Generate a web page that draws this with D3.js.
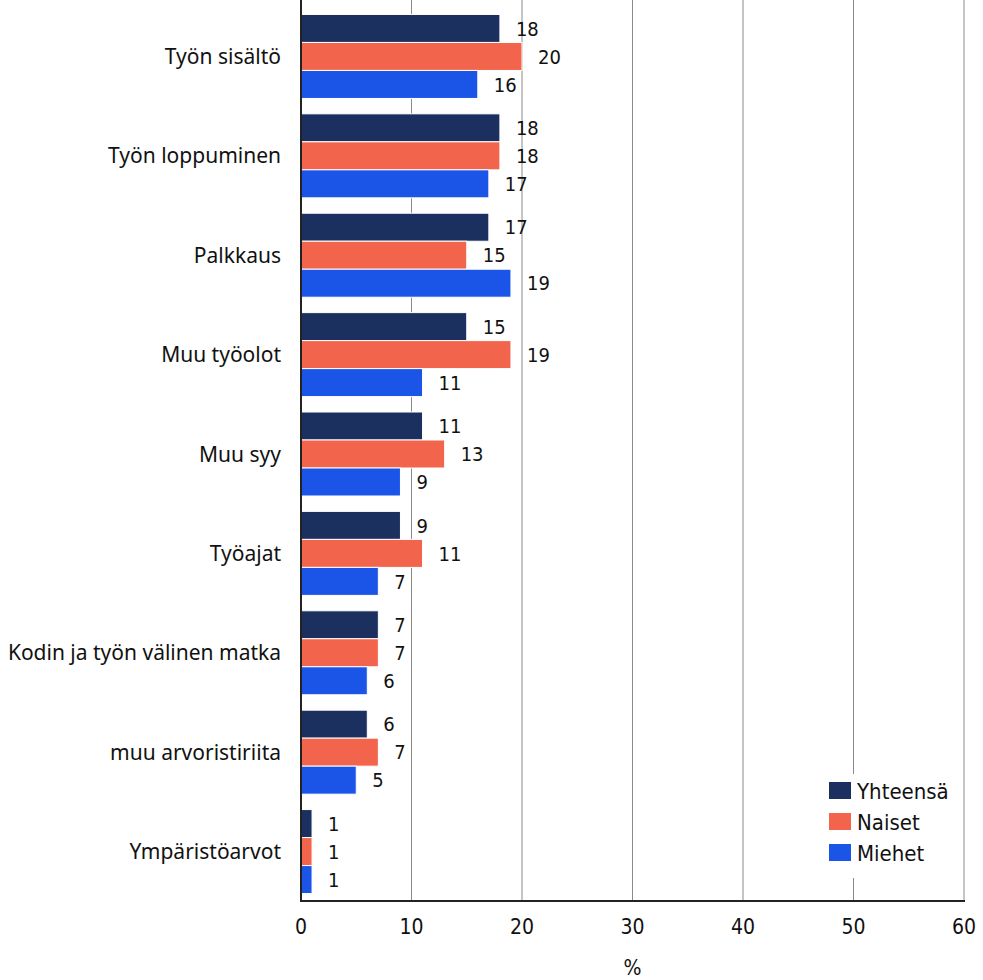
<!DOCTYPE html>
<html lang="fi">
<head>
<meta charset="utf-8">
<style>
  body { margin: 0; background: #fff; }
  svg text { font-family: "DejaVu Sans Condensed", "DejaVu Sans", sans-serif; font-stretch: condensed; fill: #111; }
  .cat text { font-family: "Noto Sans", "Roboto", sans-serif; font-stretch: normal; }
</style>
<script src="https://d3js.org/d3.v7.min.js"></script>
</head>
<body>
<div id="chart"></div>
<script>
var categories = ["Työn sisältö", "Työn loppuminen", "Palkkaus", "Muu työolot", "Muu syy",
  "Työajat", "Kodin ja työn välinen matka", "muu arvoristiriita", "Ympäristöarvot"]
var series = ["Yhteensä", "Naiset", "Miehet"]
var yhteensa = [18, 18, 17, 15, 11, 9, 7, 6, 1]
var naiset = [20, 18, 15, 19, 13, 11, 7, 7, 1]
var miehet = [16, 17, 19, 11, 9, 7, 6, 5, 1]
var xTicks = [0, 10, 20, 30, 40, 50, 60]
var colors = ["#1c3060", "#f2644b", "#1b55e8"]

var width = 983, height = 980
var plotLeft = 301, plotRight = 964, plotTop = 7, plotBottom = 901

var svg = d3.select("#chart").append("svg")
  .attr("width", width).attr("height", height)

var x = d3.scaleLinear().domain([0, 60]).range([plotLeft, plotRight])
var y = d3.scaleBand().domain(categories).range([plotTop, plotBottom])
  .paddingInner(0.155).paddingOuter(0.075)
var ySub = d3.scaleBand().domain(series).range([0, y.bandwidth()])

// gridlines
svg.append("g").selectAll("line")
  .data(xTicks.slice(1))
  .enter().append("line")
    .attr("x1", function(d){ return x(d) }).attr("x2", function(d){ return x(d) })
    .attr("y1", 0).attr("y2", plotBottom)
    .attr("stroke", "#8a8a8a").attr("stroke-width", 1)

var rows = categories.map(function(c, i){
  return { cat: c, values: [yhteensa[i], naiset[i], miehet[i]] }
})

var groups = svg.append("g").selectAll("g")
  .data(rows).enter().append("g")
    .attr("transform", function(d){ return "translate(0," + y(d.cat) + ")" })

groups.selectAll("rect")
  .data(function(d){ return d.values.map(function(v, j){ return { s: series[j], v: v, j: j } }) })
  .enter().append("rect")
    .attr("x", x(0))
    .attr("y", function(d){ return ySub(d.s) })
    .attr("width", function(d){ return x(d.v) - x(0) })
    .attr("height", ySub.bandwidth())
    .attr("fill", function(d){ return colors[d.j] })
    .attr("stroke", "#fff").attr("stroke-width", 1)

groups.selectAll("text.val")
  .data(function(d){ return d.values.map(function(v, j){ return { s: series[j], v: v } }) })
  .enter().append("text")
    .attr("class", "val")
    .attr("x", function(d){ return x(d.v) + 16 })
    .attr("y", function(d){ return ySub(d.s) + ySub.bandwidth() / 2 })
    .attr("dy", "0.36em")
    .style("font-size", "20px")
    .text(function(d){ return d.v })

// category labels
svg.append("g").attr("class", "cat").selectAll("text")
  .data(categories).enter().append("text")
    .attr("x", 281)
    .attr("y", function(d){ return y(d) + y.bandwidth() / 2 })
    .attr("dy", "0.36em")
    .attr("text-anchor", "end")
    .style("font-size", "21px")
    .text(function(d){ return d })

// axes lines
svg.append("line").attr("x1", plotLeft).attr("x2", plotLeft).attr("y1", 0).attr("y2", plotBottom + 1)
  .attr("stroke", "#222").attr("stroke-width", 2)
svg.append("line").attr("x1", plotLeft).attr("x2", plotRight + 1).attr("y1", plotBottom).attr("y2", plotBottom)
  .attr("stroke", "#222").attr("stroke-width", 2)

svg.append("g").selectAll("text")
  .data(xTicks).enter().append("text")
    .attr("x", function(d){ return x(d) })
    .attr("y", 934)
    .attr("text-anchor", "middle")
    .style("font-size", "21px")
    .text(function(d){ return d })

svg.append("text").attr("x", x(30)).attr("y", 975)
  .attr("text-anchor", "middle").style("font-size", "21px").text("%")

// legend
var legend = svg.append("g")
legend.append("rect").attr("x", 815).attr("y", 774).attr("width", 145).attr("height", 104).attr("fill", "#fff")
var li = legend.selectAll("g").data(series).enter().append("g")
  .attr("transform", function(d, i){ return "translate(829," + (782 + i * 31) + ")" })
li.append("rect").attr("width", 22).attr("height", 17)
  .attr("fill", function(d, i){ return colors[i] })
li.append("text").attr("x", 28).attr("y", 9).attr("dy", "0.36em")
  .style("font-size", "22px").text(function(d){ return d })
</script>
</body>
</html>
